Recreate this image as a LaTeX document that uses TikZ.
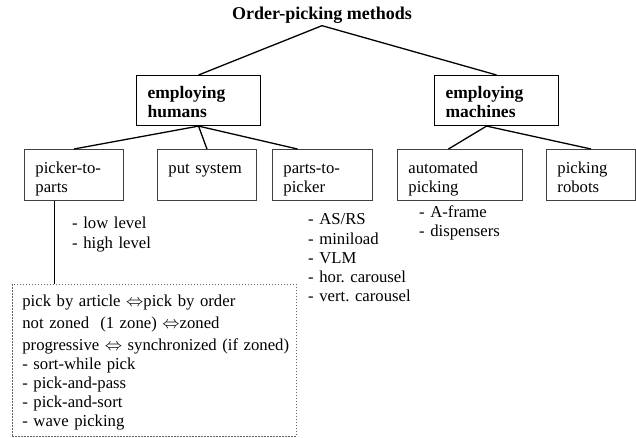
\documentclass[tikz,border=0pt]{standalone}
\usepackage{fontspec}
\setmainfont{Liberation Serif}
\usepackage{amsmath}

\begin{document}
\begin{tikzpicture}[
    x=1pt, y=-1pt,
    txt/.style={font=\fontsize{16.7}{19}\selectfont, inner sep=0pt, align=left, anchor=base west},
    box/.style={
        rectangle, draw=black!75, line width=0.9pt, anchor=north west,
        inner xsep=11pt, inner ysep=0pt, align=left, text width=#1,
        text height=24pt, text depth=27pt,
        font=\fontsize{16.7}{19}\selectfont
    },
    bigbox/.style={box=#1, draw=black, line width=1.1pt,
        text height=23pt, text depth=27pt,
        font=\bfseries\fontsize{17.5}{19}\selectfont},
    zone/.style={
        rectangle, draw=black!60, dash pattern=on 1.5pt off 1.5pt, line width=0.7pt,
        anchor=north west, inner xsep=10pt, inner ysep=0pt, align=left,
        text width=264pt, text height=22pt, text depth=130pt,
        font=\fontsize{16.7}{19}\selectfont
    },
    link/.style={line width=1.3pt}
]
    \useasboundingbox (0,0) rectangle (636,438);

    \node[font=\bfseries\fontsize{18}{20}\selectfont, inner sep=1.5pt, anchor=base] (title) at (322,20) {Order-picking methods};

    \node[bigbox=102pt] (hum)  at (136,75) {employing\\humans};
    \node[bigbox=102pt] (mach) at (434,75) {employing\\machines};

    \node[box=77pt]  (p2p)   at (24,149)  {picker-to-\\parts};
    \node[box=77pt]  (put)   at (157,149) {put system};
    \node[box=78pt]  (pp)    at (272,149) {parts-to-\\picker};
    \node[box=103pt] (auto)  at (397,149) {automated\\picking};
    \node[box=67pt]  (robot) at (546,149) {picking\\robots};

    \node[txt, text width=100pt] (levels)   at (72,229)  {- low level\\- high level};
    \node[txt, text width=110pt] (systems)  at (308,225) {- AS/RS\\- miniload\\- VLM\\- hor.\ carousel\\- vert.\ carousel};
    \node[txt, text width=100pt] (machines) at (419,218) {- A-frame\\- dispensers};

    \node[zone] (rules) at (12,284) {pick by article $\Leftrightarrow$pick by order\\[3pt]
        not zoned\ \ (1 zone) $\Leftrightarrow$zoned\\[3pt]
        \mbox{progressive $\Leftrightarrow$ synchronized (if zoned)}\\
        - sort-while pick\\
        - pick-and-pass\\
        - pick-and-sort\\
        - wave picking};

    \draw[link] (title.south) -- (hum.north);
    \draw[link] (title.south) -- (mach.north);
    \draw[link] (hum.south) -- (p2p.north);
    \draw[link] (hum.south) -- (put.north);
    \draw[link] (hum.south) -- ([xshift=-25pt]pp.north);
    \draw[link] ([xshift=-10pt]mach.south) -- ([xshift=-11.5pt]auto.north);
    \draw[link] ([xshift=-10pt]mach.south) -- (robot.north);
    \draw[link] ([xshift=-19.5pt]p2p.south) -- ([xshift=-19.5pt]p2p.south |- rules.north);
\end{tikzpicture}
\end{document}
